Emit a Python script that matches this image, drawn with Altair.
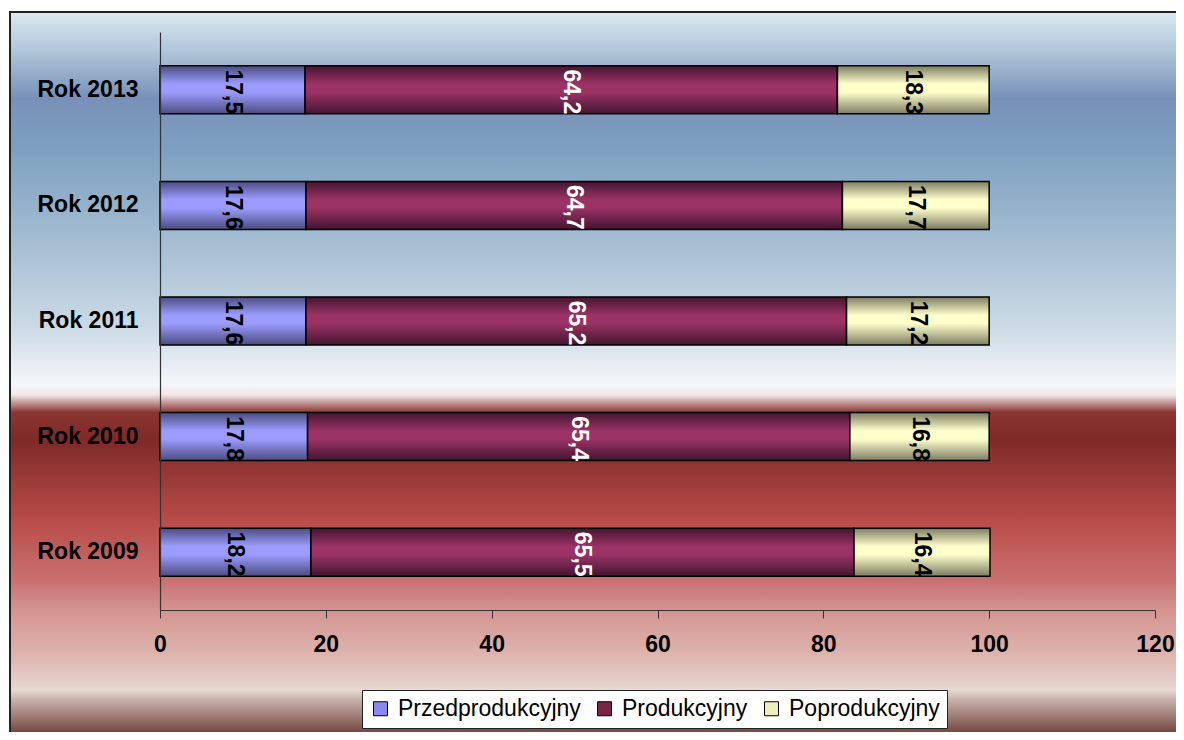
import altair as alt
import pandas as pd

# ---- data ----
years = ["Rok 2013", "Rok 2012", "Rok 2011", "Rok 2010", "Rok 2009"]
series = ["Przedprodukcyjny", "Produkcyjny", "Poprodukcyjny"]
przed = [17.5, 17.6, 17.6, 17.8, 18.2]
prod = [64.2, 64.7, 65.2, 65.4, 65.5]
post = [18.3, 17.7, 17.2, 16.8, 16.4]
x_ticks = [0, 20, 40, 60, 80, 100, 120]

rows = []
for i, y in enumerate(years):
    for k, (s, vals) in enumerate(zip(series, [przed, prod, post])):
        v = vals[i]
        rows.append({"year": y, "series": s, "order": k, "value": v,
                     "label": f"{v:.1f}".replace(".", ",")})
df = pd.DataFrame(rows)

FONT = "Liberation Sans"


def vgrad(stops):
    return alt.LinearGradient(
        gradient="linear", x1=0, y1=0, x2=0, y2=1,
        stops=[alt.GradientStop(offset=o, color=c) for o, c in stops])


def bar_grad(dark, bright):
    return vgrad([(0, dark), (0.38, bright), (0.55, bright), (1, dark)])


bar_fills = {
    "Przedprodukcyjny": bar_grad("#4c4c80", "#9c9cff"),
    "Produkcyjny": bar_grad("#431530", "#9b3366"),
    "Poprodukcyjny": bar_grad("#7d7d62", "#ffffcc"),
}
legend_colors = ["#8888ee", "#7a2448", "#eeeebb"]

# background gradient (page y from 12 to 740)
bg_stops = [
    (0.000, "#dce8f0"), (0.052, "#b0c8da"), (0.119, "#7890b8"),
    (0.190, "#7ea0c0"), (0.327, "#a8c0d4"), (0.437, "#cddbe6"),
    (0.512, "#f5f7fa"), (0.526, "#f0e6e6"), (0.550, "#8a3530"),
    (0.588, "#7e2a28"), (0.698, "#b84c48"), (0.780, "#c87070"),
    (0.821, "#d49490"), (0.890, "#dfb8b2"), (0.931, "#e8d8d2"),
    (0.945, "#c8b0aa"), (1.000, "#603028"),
]

background = alt.Chart(pd.DataFrame({"a": [0]})).mark_rect(
    fill=vgrad(bg_stops), stroke="#222222", strokeWidth=2
).encode(
    x=alt.value(-150), x2=alt.value(1100),
    y=alt.value(-20), y2=alt.value(708),
)

y_enc = alt.Y(
    "year:N", sort=years, title=None,
    scale=alt.Scale(paddingInner=0.585, paddingOuter=0.2925),
    axis=alt.Axis(ticks=False, labelFont=FONT, labelFontSize=23,
                  labelFontWeight="bold", labelColor="black",
                  labelPadding=22, domainColor="#333333", domainWidth=1.2,
                  zindex=1),
)
x_scale = alt.Scale(domain=[0, 120], nice=False)
x_axis = alt.Axis(values=x_ticks, grid=False, tickSize=8, tickColor="#333333",
                  domainColor="#333333", domainWidth=1.2, labelFont=FONT,
                  labelFontSize=23, labelFontWeight="bold", labelColor="black",
                  labelPadding=15, labelFlush=False, format="d", zindex=1)

base = alt.Chart(df).transform_stack(
    stack="value", groupby=["year"], as_=["x0", "x1"],
    sort=[alt.SortField("order", order="ascending")],
)

bar_layers = []
for s in series:
    bar_layers.append(
        base.transform_filter(alt.datum.series == s).mark_bar(
            fill=bar_fills[s], stroke="black", strokeWidth=1.5
        ).encode(
            x=alt.X("x0:Q", scale=x_scale, axis=x_axis, title=None),
            x2="x1:Q",
            y=y_enc,
        )
    )

texts = base.transform_calculate(mid="(datum.x0 + datum.x1) / 2").mark_text(
    angle=90, font=FONT, fontSize=23, fontWeight="bold",
    align="center", baseline="middle", dx=2,
).encode(
    x=alt.X("mid:Q", scale=x_scale, axis=x_axis, title=None),
    y=y_enc,
    text="label:N",
    color=alt.condition(alt.datum.series == "Produkcyjny",
                        alt.value("white"), alt.value("black")),
)

legend_layer = alt.Chart(df).transform_filter("false").mark_bar().encode(
    x=alt.X("value:Q", scale=x_scale, axis=x_axis, title=None),
    y=y_enc,
    fill=alt.Fill(
        "series:N",
        scale=alt.Scale(domain=series, range=legend_colors),
        legend=alt.Legend(
            title=None, orient="none", legendX=202, legendY=658,
            direction="horizontal", fillColor="white", strokeColor="#222222",
            padding=7, symbolType="square", symbolSize=196,
            symbolStrokeColor="black", symbolStrokeWidth=1, symbolOpacity=1,
            labelFont=FONT, labelFontSize=23, labelColor="black",
            labelOffset=6, columnPadding=12, labelLimit=400,
        ),
    ),
)

chart = alt.layer(background, *bar_layers, texts, legend_layer).properties(
    width=995, height=578,
    padding={"left": 152, "top": 24, "right": 21, "bottom": 122},
    autosize=alt.AutoSizeParams(type="none"),
    background="white",
).configure_view(stroke=None)

chart.save("out.html", embed_options={"renderer": "svg", "actions": False})
